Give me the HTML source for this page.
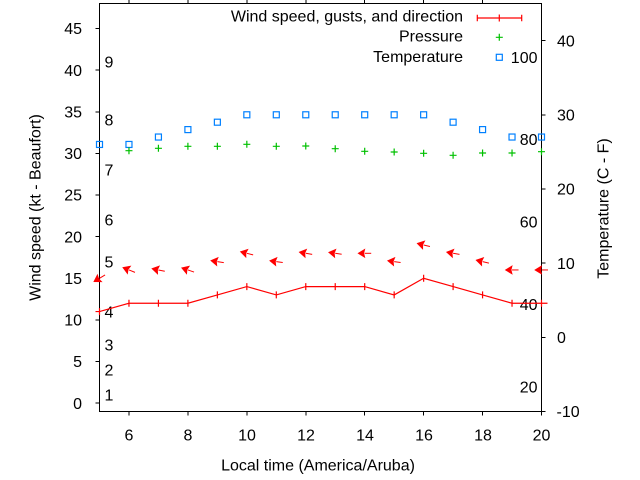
<!DOCTYPE html>
<html><head><meta charset="utf-8"><style>
html,body{margin:0;padding:0;background:#fff;}
svg{display:block;}
text{font-family:"Liberation Sans",Arial,sans-serif;font-size:16px;fill:#000;}
</style></head><body>
<svg width="640" height="480" viewBox="0 0 640 480" xmlns="http://www.w3.org/2000/svg">
<rect x="0" y="0" width="640" height="480" fill="#fff"/>

<!-- Beaufort labels -->
<g text-anchor="start">
<text x="104.5" y="400.5">1</text>
<text x="104.5" y="375.6">2</text>
<text x="104.5" y="350.6">3</text>
<text x="104.5" y="317.3">4</text>
<text x="104.5" y="267.3">5</text>
<text x="104.5" y="225.7">6</text>
<text x="104.5" y="175.7">7</text>
<text x="104.5" y="125.7">8</text>
<text x="104.5" y="67.5">9</text>
</g>

<!-- Fahrenheit labels -->
<g text-anchor="end">
<text x="537.5" y="62.8">100</text>
<text x="537.5" y="145.2">80</text>
<text x="537.5" y="227.6">60</text>
<text x="537.5" y="310.1">40</text>
<text x="537.5" y="392.5">20</text>
</g>

<!-- axes box -->
<g stroke="#000" stroke-width="1" fill="none" shape-rendering="crispEdges">
<rect x="99.5" y="3.5" width="442" height="408"/>
<path d="M95.5 403.17H99.5M95.5 361.54H99.5M95.5 319.9H99.5M95.5 278.28H99.5M95.5 236.65H99.5M95.5 195H99.5M95.5 153.4H99.5M95.5 111.76H99.5M95.5 70.13H99.5M95.5 28.5H99.5"/>
<path d="M541.5 411.5H545.5M541.5 337.3H545.5M541.5 263.1H545.5M541.5 189H545.5M541.5 114.8H545.5M541.5 40.6H545.5"/>
<path d="M128.97 411.5V415.5M187.9 411.5V415.5M246.83 411.5V415.5M305.77 411.5V415.5M364.7 411.5V415.5M423.63 411.5V415.5M482.57 411.5V415.5M541.5 411.5V415.5"/>
<path d="M128.97 -0.5V3.5M187.9 -0.5V3.5M246.83 -0.5V3.5M305.77 -0.5V3.5M364.7 -0.5V3.5M423.63 -0.5V3.5M482.57 -0.5V3.5"/>
</g>

<!-- left tick labels -->
<g text-anchor="end">
<text x="82" y="408.9">0</text>
<text x="82" y="367.2">5</text>
<text x="82" y="325.6">10</text>
<text x="82" y="284">15</text>
<text x="82" y="242.4">20</text>
<text x="82" y="200.7">25</text>
<text x="82" y="159.1">30</text>
<text x="82" y="117.5">35</text>
<text x="82" y="75.8">40</text>
<text x="82" y="34.2">45</text>
</g>

<!-- right tick labels -->
<g text-anchor="start">
<text x="556.5" y="417.2">-10</text>
<text x="557" y="343">0</text>
<text x="557" y="268.8">10</text>
<text x="557" y="194.7">20</text>
<text x="557" y="120.5">30</text>
<text x="557" y="46.3">40</text>
</g>

<!-- bottom tick labels -->
<g text-anchor="middle">
<text x="129" y="440.7">6</text>
<text x="188" y="440.7">8</text>
<text x="247" y="440.7">10</text>
<text x="306" y="440.7">12</text>
<text x="365" y="440.7">14</text>
<text x="424" y="440.7">16</text>
<text x="483" y="440.7">18</text>
<text x="541.5" y="440.7">20</text>
</g>

<!-- axis titles -->
<text x="318" y="470.5" text-anchor="middle">Local time (America/Aruba)</text>
<text transform="translate(40.5,207.5) rotate(-90)" text-anchor="middle">Wind speed (kt - Beaufort)</text>
<text transform="translate(608.5,208.5) rotate(-90)" text-anchor="middle">Temperature (C - F)</text>

<!-- Temperature squares -->
<g fill="none" stroke="#0080ff" stroke-width="1.2">
<rect x="96.5" y="141.45" width="6" height="6"/>
<rect x="125.97" y="141.45" width="6" height="6"/>
<rect x="155.43" y="134.03" width="6" height="6"/>
<rect x="184.9" y="126.6" width="6" height="6"/>
<rect x="214.37" y="119.2" width="6" height="6"/>
<rect x="243.83" y="111.78" width="6" height="6"/>
<rect x="273.3" y="111.78" width="6" height="6"/>
<rect x="302.77" y="111.78" width="6" height="6"/>
<rect x="332.23" y="111.78" width="6" height="6"/>
<rect x="361.7" y="111.78" width="6" height="6"/>
<rect x="391.17" y="111.78" width="6" height="6"/>
<rect x="420.63" y="111.78" width="6" height="6"/>
<rect x="450.1" y="119.2" width="6" height="6"/>
<rect x="479.57" y="126.6" width="6" height="6"/>
<rect x="509.03" y="134.03" width="6" height="6"/>
<rect x="538.5" y="134.03" width="6" height="6"/>
</g>

<!-- Pressure plus marks -->
<g stroke="#00c000" stroke-width="1.2" fill="none">
<path d="M125.47 150.7h7M128.97 147.2v7"/>
<path d="M154.93 148.3h7M158.43 144.8v7"/>
<path d="M184.4 146.3h7M187.9 142.8v7"/>
<path d="M213.87 146.3h7M217.37 142.8v7"/>
<path d="M243.33 144.3h7M246.83 140.8v7"/>
<path d="M272.8 146.3h7M276.3 142.8v7"/>
<path d="M302.27 146h7M305.77 142.5v7"/>
<path d="M331.73 148.7h7M335.23 145.2v7"/>
<path d="M361.2 151.3h7M364.7 147.8v7"/>
<path d="M390.67 152h7M394.17 148.5v7"/>
<path d="M420.13 153.3h7M423.63 149.8v7"/>
<path d="M449.6 155.3h7M453.1 151.8v7"/>
<path d="M479.07 153h7M482.57 149.5v7"/>
<path d="M508.53 153h7M512.03 149.5v7"/>
<path d="M538 151.7h7M541.5 148.2v7"/>
</g>

<!-- Wind speed line -->
<g stroke="#ff0000" stroke-width="1.2" fill="none">
<polyline points="95.5,311.58 99.5,311.58 128.97,303.26 158.43,303.26 187.9,303.26 217.37,294.93 246.83,286.6 276.3,294.93 305.77,286.6 335.23,286.6 364.7,286.6 394.17,294.93 423.63,278.28 453.1,286.6 482.57,294.93 512.03,303.26 541.5,303.26 547.5,303.26"/>
<path d="M99.5 308.08v7M128.97 299.76v7M158.43 299.76v7M187.9 299.76v7M217.37 291.43v7M246.83 283.1v7M276.3 291.43v7M305.77 283.1v7M335.23 283.1v7M364.7 283.1v7M394.17 291.43v7M423.63 274.78v7M453.1 283.1v7M482.57 291.43v7M512.03 299.76v7M541.5 299.76v7"/>
</g>

<!-- Wind direction arrows -->
<g fill="#ff0000" stroke="#ff0000" stroke-width="1">
<g transform="translate(99.5,278.28) rotate(-31)"><path d="M0 0H6.5" fill="none"/><path d="M-6.5 0L0 -4L-1 0L0 4Z" stroke-width="0.8"/></g>
<g transform="translate(128.97,269.95) rotate(22)"><path d="M0 0H6.5" fill="none"/><path d="M-6.5 0L0 -4L-1 0L0 4Z" stroke-width="0.8"/></g>
<g transform="translate(158.43,269.95) rotate(12)"><path d="M0 0H6.5" fill="none"/><path d="M-6.5 0L0 -4L-1 0L0 4Z" stroke-width="0.8"/></g>
<g transform="translate(187.9,269.95) rotate(19)"><path d="M0 0H6.5" fill="none"/><path d="M-6.5 0L0 -4L-1 0L0 4Z" stroke-width="0.8"/></g>
<g transform="translate(217.37,261.62) rotate(9)"><path d="M0 0H6.5" fill="none"/><path d="M-6.5 0L0 -4L-1 0L0 4Z" stroke-width="0.8"/></g>
<g transform="translate(246.83,253.3) rotate(14)"><path d="M0 0H6.5" fill="none"/><path d="M-6.5 0L0 -4L-1 0L0 4Z" stroke-width="0.8"/></g>
<g transform="translate(276.3,261.62) rotate(8)"><path d="M0 0H6.5" fill="none"/><path d="M-6.5 0L0 -4L-1 0L0 4Z" stroke-width="0.8"/></g>
<g transform="translate(305.77,253.3) rotate(10)"><path d="M0 0H6.5" fill="none"/><path d="M-6.5 0L0 -4L-1 0L0 4Z" stroke-width="0.8"/></g>
<g transform="translate(335.23,253.3) rotate(8)"><path d="M0 0H6.5" fill="none"/><path d="M-6.5 0L0 -4L-1 0L0 4Z" stroke-width="0.8"/></g>
<g transform="translate(364.7,253.3) rotate(0)"><path d="M0 0H6.5" fill="none"/><path d="M-6.5 0L0 -4L-1 0L0 4Z" stroke-width="0.8"/></g>
<g transform="translate(394.17,261.62) rotate(8)"><path d="M0 0H6.5" fill="none"/><path d="M-6.5 0L0 -4L-1 0L0 4Z" stroke-width="0.8"/></g>
<g transform="translate(423.63,244.97) rotate(14)"><path d="M0 0H6.5" fill="none"/><path d="M-6.5 0L0 -4L-1 0L0 4Z" stroke-width="0.8"/></g>
<g transform="translate(453.1,253.3) rotate(10)"><path d="M0 0H6.5" fill="none"/><path d="M-6.5 0L0 -4L-1 0L0 4Z" stroke-width="0.8"/></g>
<g transform="translate(482.57,261.62) rotate(13)"><path d="M0 0H6.5" fill="none"/><path d="M-6.5 0L0 -4L-1 0L0 4Z" stroke-width="0.8"/></g>
<g transform="translate(512.03,269.95) rotate(0)"><path d="M0 0H6.5" fill="none"/><path d="M-6.5 0L0 -4L-1 0L0 4Z" stroke-width="0.8"/></g>
<g transform="translate(541.5,269.95) rotate(0)"><path d="M0 0H6.5" fill="none"/><path d="M-6.5 0L0 -4L-1 0L0 4Z" stroke-width="0.8"/></g>
</g>

<!-- Legend -->
<g text-anchor="end">
<text x="463" y="21.7">Wind speed, gusts, and direction</text>
<text x="463" y="41.7">Pressure</text>
<text x="463" y="61.9">Temperature</text>
</g>
<g stroke="#ff0000" stroke-width="1.2" fill="none">
<path d="M477.3 18H521.7M477.3 14.7V21.3M521.7 14.7V21.3M499.3 14.5V21.5"/>
</g>
<path d="M495.8 37.3h7M499.3 33.8v7" stroke="#00c000" stroke-width="1.2" fill="none"/>
<rect x="496.3" y="54.3" width="6" height="6" fill="none" stroke="#0080ff" stroke-width="1.2"/>
</svg>
</body></html>
